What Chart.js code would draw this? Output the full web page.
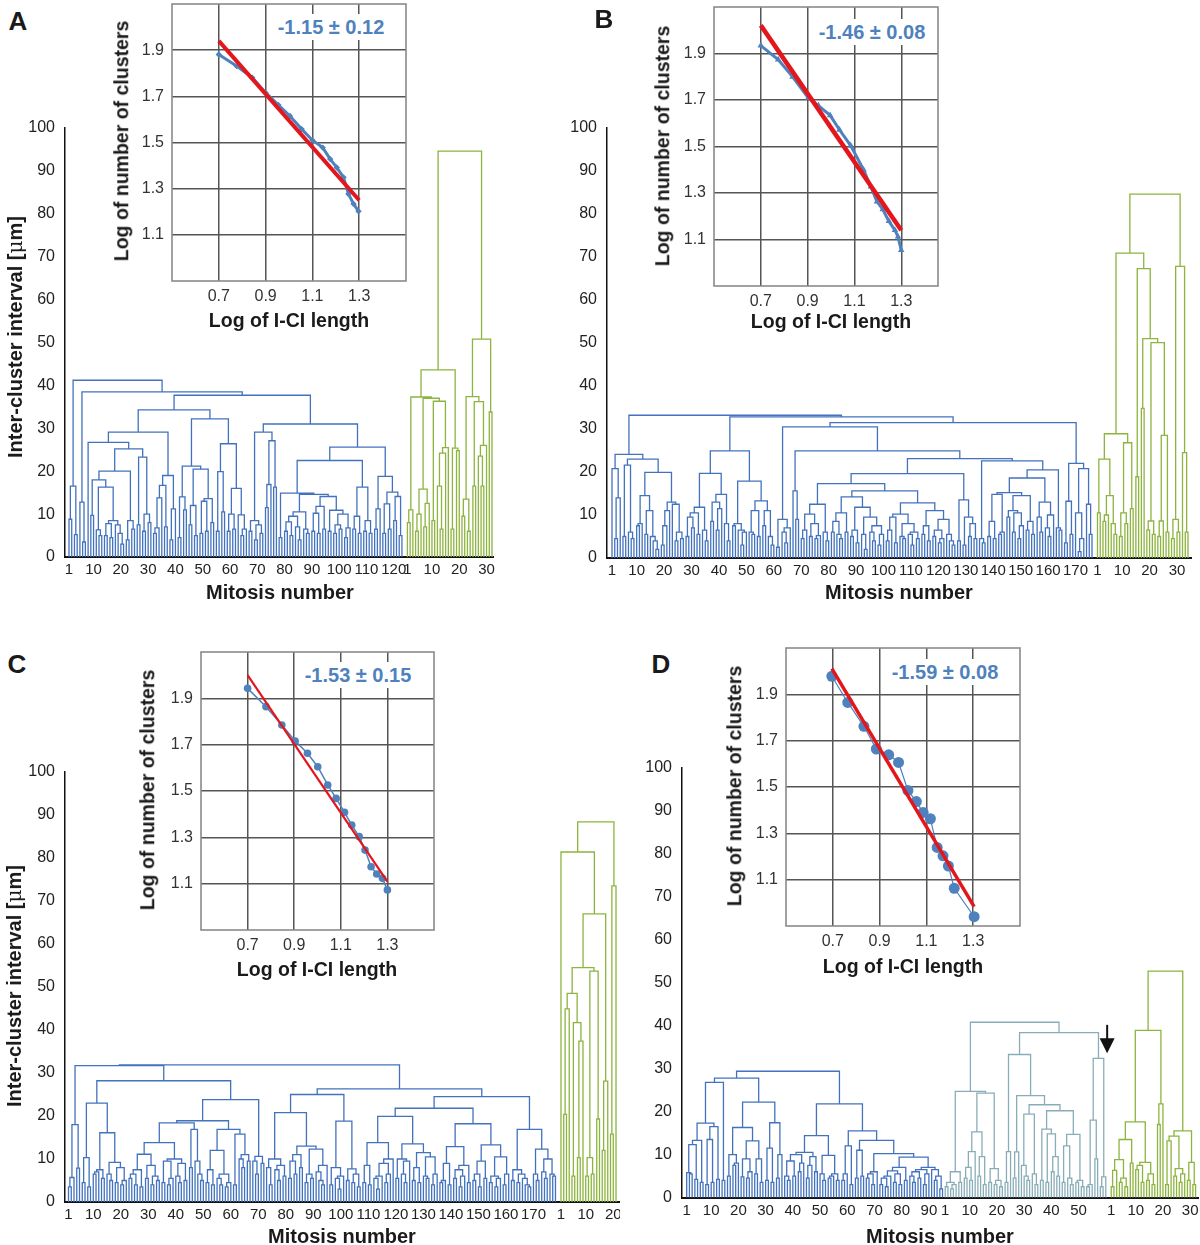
<!DOCTYPE html>
<html><head><meta charset="utf-8"><title>Inter-cluster dendrograms</title>
<script src="https://cdn.jsdelivr.net/npm/chart.js@4.4.1/dist/chart.umd.min.js"></script>
<style>
html,body{margin:0;padding:0;background:#fff;}
#root{position:relative;width:1200px;height:1245px;overflow:hidden;background:#fff;font-family:"Liberation Sans",Arial,Helvetica,sans-serif;}
#root canvas{position:absolute;}
.lbl{position:absolute;white-space:nowrap;font-weight:bold;color:#1a1a1a;transform:translate(-50%,-50%);line-height:1;}
.rot{transform:translate(-50%,-50%) rotate(-90deg);}
.note{background:#fff;padding:3px 5px;}
</style></head><body><div id="root"></div><script>
// ---------------- DATA ----------------
// Dendrograms: heights (µm) at which adjacent leaves (in display order) are joined
const A_blueGaps = [8.8,16.5,5.2,41.2,12.8,3.5,38.5,26.7,9.7,18.0,
 6.3,5.0,16.3,5.0,7.8,4.5,8.5,7.5,5.5,3.0,
 20.0,4.0,8.5,6.5,25.2,7.5,23.3,6.0,10.0,8.0,
 29.1,5.5,6.8,13.8,16.7,7.0,19.0,4.0,11.2,34.3,
 4.5,14.0,11.0,21.2,7.5,12.0,5.0,20.5,5.5,13.0,
 6.0,13.6,8.0,32.2,6.0,19.9,10.5,26.4,6.0,10.0,
 6.5,16.0,9.8,5.0,6.5,37.7,6.0,8.5,4.0,7.5,
 5.5,29.1,11.5,16.9,27.1,16.3,31.0,4.5,14.9,6.0,
 8.2,5.0,9.5,7.0,4.0,10.5,6.5,5.5,14.6,6.0,
 10.2,5.5,11.8,6.5,14.1,6.0,10.9,5.5,7.5,6.5,
 10.0,4.5,6.8,22.5,6.5,9.5,5.5,16.3,6.0,8.5,
 5.5,25.6,6.5,11.2,18.8,5.5,12.4,6.5,15.1,8.5,14.1,5.0];
const A_greenGaps = [8.0,11.0,37.3,6.0,10.0,15.8,7.0,12.5,37.0,8.5,
 36.3,16.5,6.5,24.2,25.5,43.6,6.5,25.4,24.8,94.6,
 9.5,13.5,6.0,37.4,16.5,36.2,23.5,16.5,26.0,50.8,33.8];
const B_blueGaps = [20.8,4.5,14.0,24.1,5.0,21.6,6.0,4.5,23.0,7.5,
 8.0,14.5,5.5,11.0,5.0,4.0,2.0,19.9,3.0,7.5,
 11.0,13.0,12.5,4.0,6.0,4.5,33.2,5.0,9.5,7.0,
 10.5,5.5,11.8,6.5,4.0,19.7,8.5,13.0,6.5,11.5,
 14.8,8.0,4.0,24.9,7.5,8.0,6.5,3.0,6.0,17.9,
 6.0,5.5,11.0,5.0,13.3,7.5,11.0,5.0,3.0,32.8,
 2.5,9.0,6.0,3.5,7.0,30.5,15.6,9.0,24.9,4.5,
 6.5,10.2,5.0,8.0,4.5,5.2,12.5,6.0,4.0,17.3,
 6.0,8.5,5.5,4.5,10.5,6.0,14.2,5.0,6.5,3.5,
 11.8,5.5,2.0,9.5,6.0,4.0,7.5,3.0,5.5,15.6,
 4.0,6.5,9.5,3.5,10.2,5.0,4.5,8.0,5.5,3.0,
 6.0,4.5,12.8,5.5,7.5,4.0,11.0,5.0,6.5,3.5,
 4.5,9.0,5.5,4.0,3.0,19.6,4.0,13.5,3.0,9.5,
 5.0,8.0,4.5,23.1,4.5,3.5,22.6,5.0,8.5,4.5,
 14.8,5.5,6.0,15.2,9.5,11.0,6.0,10.5,4.5,7.5,
 14.5,6.5,8.5,5.5,18.6,9.5,6.0,13.0,7.0,5.0,
 10.0,20.5,7.0,6.5,31.5,3.5,13.2,5.5,22.0,10.5,
 1.5,4.5,20.8,12.5,5.5];
const B_greenGaps = [10.5,23.0,8.5,10.0,14.5,8.0,5.5,28.9,5.0,10.5,
 8.0,26.8,11.5,70.9,18.9,67.3,34.8,51.0,6.5,8.6,
 5.5,50.1,5.0,8.6,28.5,6.0,84.6,4.5,9.0,6.0,
 67.8,24.5,6.0];
const C_blueGaps = [3.5,5.7,18.0,7.9,31.7,4.5,10.3,3.5,23.0,6.5,
 7.0,7.5,5.5,16.1,6.5,5.0,9.2,4.5,8.0,4.0,
 5.0,28.2,5.5,6.5,4.0,7.5,3.5,11.1,5.5,8.5,
 4.0,6.0,5.0,13.8,4.5,9.5,4.0,5.5,10.0,6.0,
 4.5,9.0,5.0,18.4,8.0,16.9,9.5,6.5,5.0,18.9,
 4.5,7.5,4.0,12.0,5.5,4.0,6.5,3.5,4.5,16.9,
 4.0,15.8,10.0,8.0,11.0,9.5,23.8,9.5,6.5,10.6,
 9.0,31.9,8.0,4.0,10.0,7.5,5.0,8.5,6.0,20.8,
 5.5,9.5,6.5,11.0,8.0,13.0,4.5,6.5,5.5,12.3,
 7.0,5.0,4.0,8.5,25.0,4.0,8.0,5.5,3.0,6.0,
 18.8,5.0,7.7,4.5,6.5,3.5,26.3,4.5,8.5,4.0,
 13.8,5.5,3.0,6.0,9.0,4.5,6.5,10.0,19.9,5.5,
 10.0,6.5,4.5,9.5,13.5,5.0,8.0,4.5,11.5,6.0,
 5.5,10.5,4.0,6.5,21.8,4.5,5.0,9.0,4.0,12.9,
 5.5,7.5,3.5,6.0,8.5,4.5,18.2,5.0,6.5,3.5,
 9.5,5.5,13.3,4.5,6.0,3.5,5.5,10.5,4.0,6.5,
 24.5,5.0,7.5,4.5,6.5,5.5,4.0,3.5,16.9,6.5,
 5.0,12.3,7.0,5.5,10.0,6.5,6.0];
const C_greenGaps = [81.4,20.4,44.9,48.5,6.0,41.7,10.3,37.4,54.5,6.0,
 10.3,6.5,53.7,19.3,67.0,12.0,28.1,88.4,15.8,73.5];
const D_blueGaps = [5.8,5.5,12.3,4.2,13.3,3.5,17.3,3.0,13.5,3.5,
 16.5,4.2,26.8,4.0,27.8,5.0,10.0,7.5,8.0,16.3,
 4.8,9.0,4.5,6.0,13.2,5.5,9.0,3.5,22.2,4.0,
 11.5,3.5,17.4,4.5,10.0,29.4,5.0,4.0,8.5,5.0,
 10.0,6.0,8.0,10.5,4.5,7.5,9.5,6.0,14.4,5.5,
 4.0,9.8,4.5,5.0,5.5,4.0,21.8,4.0,5.5,12.0,
 3.0,15.5,4.5,11.0,5.0,13.3,4.5,5.5,3.0,6.0,
 10.2,3.0,4.5,2.5,5.0,6.2,3.5,5.5,3.0,7.0,
 4.0,9.4,5.0,3.5,6.0,4.5,6.5,3.0,5.5,7.0,
 6.5,4.0,5.0,2.0];
const D_tealGaps = [2.5,3.5,2.0,3.0,6.0,3.5,24.7,4.5,7.0,4.0,
 10.7,15.3,5.0,9.5,3.0,24.3,3.5,6.7,3.0,4.0,
 2.5,40.8,3.5,10.7,33.3,4.5,10.6,23.7,7.5,5.0,
 4.0,19.4,5.5,3.0,21.6,4.0,15.9,3.5,14.8,6.0,
 9.5,5.0,20.2,3.5,12.0,4.5,3.0,14.7,3.5,4.0,
 2.5,38.4,2.5,3.0,18.0,9.0,32.4,2.5,4.8];
const D_greenGaps = [2.5,6.3,8.8,3.5,4.5,2.5,13.5,8.0,17.6,6.5,
 7.5,3.5,8.2,4.0,5.5,3.0,38.9,17.0,21.8,52.7,
 3.0,13.2,14.3,5.0,6.7,3.5,5.5,15.5,4.0,8.2,3.0];
const D_arrowHeights = [40.2, 33.6];

// Mitosis-number tick labels for each cluster group
const A_blueTicks = [1,10,20,30,40,50,60,70,80,90,100,110,120];
const A_greenTicks = [1,10,20,30];
const B_blueTicks = [1,10,20,30,40,50,60,70,80,90,100,110,120,130,140,150,160,170];
const B_greenTicks = [1,10,20,30];
const C_blueTicks = [1,10,20,30,40,50,60,70,80,90,100,110,120,130,140,150,160,170];
const C_greenTicks = [1,10,20];
const D_blueTicks = [1,10,20,30,40,50,60,70,80,90];
const D_tealTicks = [1,10,20,30,40,50];
const D_greenTicks = [1,10,20,30];
const intervalTicks = [0,10,20,30,40,50,60,70,80,90,100];

// Insets: log of I-CI length vs log of number of clusters, with fitted line
const A_logLength = [0.700,0.776,0.843,0.900,0.954,1.004,1.054,1.100,1.144,1.176,1.204,1.233,1.254,1.276,1.297];
const A_logClusters = [1.881,1.831,1.781,1.716,1.663,1.615,1.558,1.510,1.478,1.428,1.392,1.349,1.277,1.234,1.202];
const A_fitX = [0.70,1.30], A_fitY = [1.94,1.25];
const A_slope = '-1.15 ± 0.12';
const B_logLength = [0.700,0.774,0.836,0.903,0.946,0.996,1.036,1.084,1.139,1.170,1.196,1.221,1.247,1.273,1.286,1.300];
const B_logClusters = [1.934,1.874,1.800,1.709,1.676,1.634,1.572,1.504,1.400,1.327,1.263,1.230,1.179,1.140,1.112,1.054];
const B_fitX = [0.70,1.30], B_fitY = [2.021,1.140];
const B_slope = '-1.46 ± 0.08';
const C_logLength = [0.700,0.779,0.847,0.904,0.957,1.001,1.044,1.080,1.116,1.147,1.179,1.204,1.230,1.254,1.279,1.300];
const C_logClusters = [1.943,1.864,1.785,1.716,1.663,1.605,1.526,1.468,1.408,1.353,1.303,1.245,1.173,1.142,1.123,1.073];
const C_fitX = [0.70,1.30], C_fitY = [2.000,1.109];
const C_slope = '-1.53 ± 0.15';
const D_logLength = [0.696,0.764,0.833,0.886,0.939,0.981,1.021,1.057,1.086,1.117,1.146,1.171,1.194,1.219,1.304];
const D_logClusters = [1.978,1.865,1.762,1.664,1.639,1.606,1.485,1.437,1.390,1.363,1.239,1.203,1.159,1.063,0.940];
const D_fitX = [0.696,1.304], D_fitY = [2.011,0.984];
const D_slope = '-1.59 ± 0.08';
const insetXTicks = [0.7,0.9,1.1,1.3];
const insetYTicks = [1.1,1.3,1.5,1.7,1.9];

// ---------------- RENDERING ----------------
const FONT = '"Liberation Sans", Arial, Helvetica, sans-serif';
Chart.defaults.font.family = FONT;
const root = document.getElementById('root');
const BLUE = '#4272bd', GREEN = '#8cb43e', TEAL = '#89adb8', IBLUE = '#4f81bd', RED = '#e3161c';

function makeCanvas(r){
  const c = document.createElement('canvas');
  c.width = r.w; c.height = r.h;
  c.style.left = r.x+'px'; c.style.top = r.y+'px';
  c.style.width = r.w+'px'; c.style.height = r.h+'px';
  root.appendChild(c); return c;
}
function addText(html, x, y, size, opts){
  opts = opts || {};
  const d = document.createElement('div');
  d.className = 'lbl' + (opts.rot ? ' rot' : '') + (opts.note ? ' note' : '');
  d.innerHTML = html;
  d.style.left = x+'px'; d.style.top = y+'px';
  d.style.fontSize = size+'px';
  if (opts.color) d.style.color = opts.color;
  root.appendChild(d);
}
// ordered dendrogram from adjacent-leaf join heights; node x = mean of its children
function buildTree(gaps, lo, hi, off, pts){
  if (lo === hi) return {x: off + lo + 1, h: 0};
  let m = lo;
  for (let i = lo; i < hi; i++) if (gaps[i] > gaps[m]) m = i;
  const L = buildTree(gaps, lo, m, off, pts);
  const R = buildTree(gaps, m+1, hi, off, pts);
  const h = gaps[m];
  pts.push({x:L.x,y:L.h},{x:L.x,y:h},{x:R.x,y:h},{x:R.x,y:R.h},{x:R.x,y:null});
  return {x:(L.x+R.x)/2, h:h};
}
function dendrogram(rect, area, groups, spacers, extraPlugins){
  const datasets = [], tickVals = [], tickLabels = [], info = [];
  let off = 0;
  groups.forEach((g, gi) => {
    if (gi > 0) off += spacers[gi-1];
    const n = g.gaps.length + 1, pts = [];
    buildTree(g.gaps, 0, n-1, off, pts);
    datasets.push({data:pts, showLine:true, borderColor:g.color, borderWidth:1.3,
      pointRadius:0, pointHoverRadius:0, pointHitRadius:0, spanGaps:false, fill:false,
      borderCapStyle:'square', borderJoinStyle:'miter'});
    g.ticks.forEach(t => { tickVals.push(off + t); tickLabels.push(String(t)); });
    info.push({start: off, count: n});
    off += n;
  });
  const total = off;
  const sp = (area.last - area.first) / (total - 1);
  const xmin = 1 - (area.first - area.l) / sp;
  const xmax = xmin + (area.r - area.l) / sp;
  const xH = 30;
  const chart = new Chart(makeCanvas(rect), {
    type:'scatter', data:{datasets},
    options:{
      responsive:false, animation:false, devicePixelRatio:1, events:[],
      layout:{padding:{left:0, top:area.t-rect.y, right:rect.x+rect.w-area.r, bottom:rect.y+rect.h-area.b-xH}},
      plugins:{legend:{display:false}, tooltip:{enabled:false}},
      scales:{
        x:{type:'linear', min:xmin, max:xmax,
          grid:{display:false, drawTicks:false},
          border:{display:true, color:'#111', width:2},
          afterBuildTicks:s => { s.ticks = tickVals.map(v => ({value:v})); },
          ticks:{autoSkip:false, maxRotation:0, minRotation:0, padding:4, color:'#222',
            font:{size:15}, callback:(v,i) => tickLabels[i]},
          afterFit:s => { s.height = xH; s.paddingLeft = 0; s.paddingRight = 0; }},
        y:{type:'linear', min:0, max:100,
          grid:{display:false, drawTicks:false},
          border:{display:true, color:'#111', width:1.5},
          afterBuildTicks:s => { s.ticks = intervalTicks.map(v => ({value:v})); },
          ticks:{padding:10, color:'#222', font:{size:16}},
          afterFit:s => { s.width = area.l - rect.x; s.paddingTop = 0; s.paddingBottom = 0; }}
      }
    },
    plugins: extraPlugins || []
  });
  chart.$groups = info;
  return chart;
}
const insetBg = {
  id:'insetBg',
  beforeDraw(chart){ const a = chart.chartArea, c = chart.ctx;
    c.save(); c.fillStyle = '#fff'; c.fillRect(a.left, a.top, a.right-a.left, a.bottom-a.top); c.restore(); },
  beforeDatasetsDraw(chart){ const a = chart.chartArea, c = chart.ctx;
    c.save(); c.strokeStyle = '#8a8a8a'; c.lineWidth = 1.6;
    c.strokeRect(a.left, a.top, a.right-a.left, a.bottom-a.top); c.restore(); }
};
function inset(rect, area, xs, ys, fx, fy, st){
  const pts = xs.map((x,i) => ({x:x, y:ys[i]}));
  const fit = fx.map((x,i) => ({x:x, y:fy[i]}));
  const xH = 40;
  new Chart(makeCanvas(rect), {
    type:'scatter',
    data:{datasets:[
      {data:fit, showLine:true, borderColor:RED, borderWidth:st.redW, pointRadius:0, pointHitRadius:0},
      {data:pts, showLine:true, borderColor:IBLUE, backgroundColor:IBLUE, borderWidth:st.blueW,
        pointStyle:st.marker, pointRadius:st.r, pointBorderWidth:0, pointHitRadius:0}
    ]},
    options:{
      responsive:false, animation:false, devicePixelRatio:1, events:[],
      layout:{padding:{left:0, top:area.t-rect.y, right:rect.x+rect.w-area.r, bottom:rect.y+rect.h-area.b-xH}},
      plugins:{legend:{display:false}, tooltip:{enabled:false}},
      scales:{
        x:{type:'linear', min:st.xmin, max:st.xmax,
          grid:{color:'#555', lineWidth:1.5, drawTicks:false}, border:{display:false},
          afterBuildTicks:s => { s.ticks = insetXTicks.map(v => ({value:v})); },
          ticks:{padding:6, color:'#333', font:{size:16}, callback:v => Number(v).toFixed(1)},
          afterFit:s => { s.height = xH; s.paddingLeft = 0; s.paddingRight = 0; }},
        y:{type:'linear', min:0.9, max:2.1,
          grid:{color:'#555', lineWidth:1.5, drawTicks:false}, border:{display:false},
          afterBuildTicks:s => { s.ticks = insetYTicks.map(v => ({value:v})); },
          ticks:{padding:8, color:'#333', font:{size:16}, callback:v => Number(v).toFixed(1)},
          afterFit:s => { s.width = area.l - rect.x; s.paddingTop = 0; s.paddingBottom = 0; }}
      }
    },
    plugins:[insetBg]
  });
}

// Panel A
dendrogram({x:0,y:100,w:600,h:520}, {l:65,r:493,t:128,b:557,first:69,last:492},
  [{gaps:A_blueGaps,color:BLUE,ticks:A_blueTicks},{gaps:A_greenGaps,color:GREEN,ticks:A_greenTicks}], [1]);
// Panel B
dendrogram({x:540,y:100,w:660,h:520}, {l:607,r:1191,t:128,b:558,first:612,last:1188},
  [{gaps:B_blueGaps,color:BLUE,ticks:B_blueTicks},{gaps:B_greenGaps,color:GREEN,ticks:B_greenTicks}], [1]);
// Panel C
dendrogram({x:0,y:740,w:620,h:505}, {l:65,r:619,t:772,b:1202,first:68.5,last:616},
  [{gaps:C_blueGaps,color:BLUE,ticks:C_blueTicks},{gaps:C_greenGaps,color:GREEN,ticks:C_greenTicks}], [1]);
// Panel D (with arrow between the second and third cluster)
const arrowPlugin = {
  id:'arrowD',
  afterDatasetsDraw(chart){
    const g = chart.$groups; if (!g) return;
    const pos = g[1].start + g[1].count + 0.5;
    const xs = chart.scales.x, ys = chart.scales.y, c = chart.ctx;
    const x = xs.getPixelForValue(pos);
    const yTop = ys.getPixelForValue(D_arrowHeights[0]);
    const yTip = ys.getPixelForValue(D_arrowHeights[1]);
    const head = 15;
    c.save(); c.strokeStyle = '#111'; c.fillStyle = '#111'; c.lineWidth = 2;
    c.beginPath(); c.moveTo(x, yTop); c.lineTo(x, yTip - head + 1); c.stroke();
    c.beginPath(); c.moveTo(x - 7.5, yTip - head); c.lineTo(x + 7.5, yTip - head); c.lineTo(x, yTip); c.closePath(); c.fill();
    c.restore();
  }
};
const chartD = dendrogram({x:620,y:740,w:580,h:505}, {l:682,r:1198,t:768,b:1197.5,first:686.7,last:1195.6},
  [{gaps:D_blueGaps,color:BLUE,ticks:D_blueTicks},{gaps:D_tealGaps,color:TEAL,ticks:D_tealTicks},{gaps:D_greenGaps,color:GREEN,ticks:D_greenTicks}], [0,1], [arrowPlugin]);
chartD.draw();

// Insets
inset({x:100,y:0,w:320,h:345}, {l:172,r:406,t:3,b:281}, A_logLength, A_logClusters, A_fitX, A_fitY,
  {xmin:0.5,xmax:1.5,marker:'rectRot',r:3.2,blueW:3,redW:4});
inset({x:620,y:0,w:330,h:345}, {l:714,r:938,t:7,b:286}, B_logLength, B_logClusters, B_fitX, B_fitY,
  {xmin:0.5,xmax:1.457,marker:'triangle',r:3.8,blueW:3,redW:4.5});
inset({x:130,y:640,w:320,h:345}, {l:201,r:434,t:652,b:930}, C_logLength, C_logClusters, C_fitX, C_fitY,
  {xmin:0.5,xmax:1.5,marker:'circle',r:3.8,blueW:1.5,redW:2.2});
inset({x:710,y:640,w:320,h:345}, {l:786,r:1020,t:648,b:926}, D_logLength, D_logClusters, D_fitX, D_fitY,
  {xmin:0.5,xmax:1.5,marker:'circle',r:5.5,blueW:1.2,redW:3.5});

// Texts
addText('A', 18, 21, 26); addText('B', 604, 19, 26);
addText('C', 17, 664, 26); addText('D', 661, 664, 26);
const yTitle = 'Inter-cluster interval [<span style="font-weight:normal;font-family:\'DejaVu Serif\',serif">μ</span>m]';
addText(yTitle, 15, 337, 20, {rot:true});
addText(yTitle, 14, 986, 20, {rot:true});
addText('Mitosis number', 280, 592, 20);
addText('Mitosis number', 899, 592, 20);
addText('Mitosis number', 342, 1236, 20);
addText('Mitosis number', 940, 1236, 20);
addText('Log of I-CI length', 289, 321, 19.5);
addText('Log of I-CI length', 831, 322, 19.5);
addText('Log of I-CI length', 317, 970, 19.5);
addText('Log of I-CI length', 903, 967, 19.5);
addText('Log of number of clusters', 122, 141, 19.5, {rot:true});
addText('Log of number of clusters', 663, 146, 19.5, {rot:true});
addText('Log of number of clusters', 148, 790, 19.5, {rot:true});
addText('Log of number of clusters', 735, 786, 19.5, {rot:true});
addText(A_slope, 331, 27, 20, {color:IBLUE, note:true});
addText(B_slope, 872, 32, 20, {color:IBLUE, note:true});
addText(C_slope, 358, 675, 20, {color:IBLUE, note:true});
addText(D_slope, 945, 672, 20, {color:IBLUE, note:true});
</script></body></html>
